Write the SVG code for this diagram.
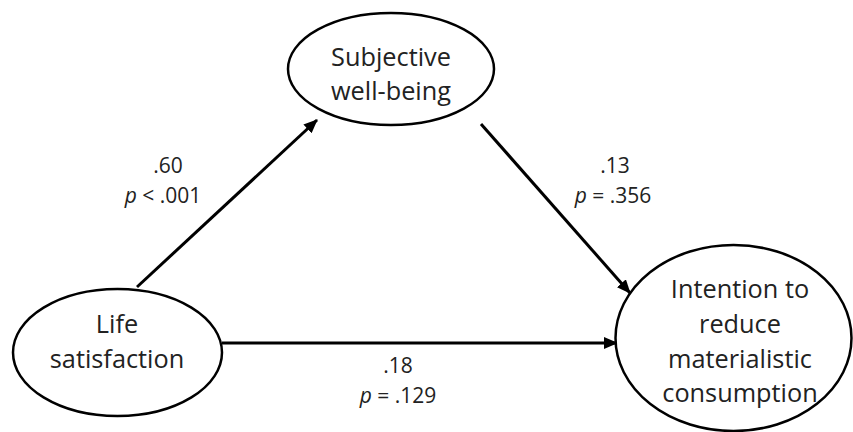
<svg xmlns="http://www.w3.org/2000/svg" width="853" height="432" viewBox="0 0 853 432">
<style>
.node ellipse{fill:#fff;stroke:#000;stroke-width:2.5}
.t{font-family:"Open Sans","Liberation Sans",sans-serif;font-size:25.3px;fill:#222;text-anchor:middle}
.l{font-family:"Open Sans","Liberation Sans",sans-serif;font-size:21px;fill:#222;text-anchor:middle}
.l .i{font-style:italic}
.e{stroke:#000;stroke-width:3;fill:none}
</style>
<defs>
<marker id="ah" markerUnits="userSpaceOnUse" markerWidth="14" markerHeight="12" refX="13" refY="6" orient="auto" viewBox="0 0 14 12">
<path d="M0,0 L14,6 L0,12 z" fill="#000"/>
</marker>
</defs>
<rect width="853" height="432" fill="#fff"/>
<g id="connectors">
<line class="e" x1="137" y1="287" x2="317" y2="120" marker-end="url(#ah)"/>
<line class="e" x1="481" y1="124" x2="630" y2="293" marker-end="url(#ah)"/>
<line class="e" x1="222" y1="343" x2="617" y2="343" marker-end="url(#ah)"/>
</g>
<g id="node-swb" class="node">
<ellipse cx="391" cy="69" rx="103" ry="56"/>
<text class="t" x="391" y="66">Subjective</text>
<text class="t" x="391" y="100">well-being</text>
</g>
<g id="node-ls" class="node">
<ellipse cx="117.5" cy="352.5" rx="104.5" ry="63.5"/>
<text class="t" x="117" y="333">Life</text>
<text class="t" x="117" y="368">satisfaction</text>
</g>
<g id="node-irmc" class="node">
<ellipse cx="733.5" cy="338" rx="118" ry="93"/>
<text class="t" x="740" y="298">Intention to</text>
<text class="t" x="740" y="333">reduce</text>
<text class="t" x="740" y="368">materialistic</text>
<text class="t" x="740" y="402">consumption</text>
</g>
<g id="labels">
<text class="l" x="168" y="173">.60</text>
<text class="l" x="163" y="203"><tspan class="i">p</tspan> &lt; .001</text>
<text class="l" x="615" y="173">.13</text>
<text class="l" x="613" y="203"><tspan class="i">p</tspan> = .356</text>
<text class="l" x="398" y="373">.18</text>
<text class="l" x="398" y="403"><tspan class="i">p</tspan> = .129</text>
</g>
</svg>
